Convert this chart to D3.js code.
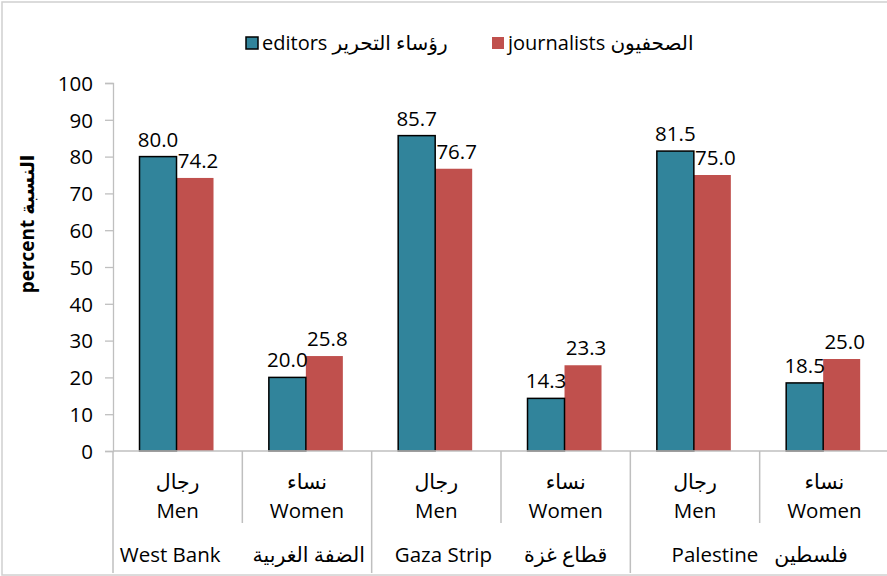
<!DOCTYPE html>
<html>
<head>
<meta charset="utf-8">
<script src="https://cdn.jsdelivr.net/npm/d3@7"></script>
<style>
  body { margin: 0; background: #fff; }
  text { font-family: "Open Sans", "DejaVu Sans", sans-serif; fill: #000; }
</style>
</head>
<body>
<svg id="chart" width="887" height="576"></svg>
<script>
// ---- data ----
const regionsEn = ["West Bank", "Gaza Strip", "Palestine"];
const regionsAr = ["الضفة الغربية", "قطاع غزة", "فلسطين"];
const sexEn = ["Men", "Women"];
const sexAr = ["رجال", "نساء"];
const seriesNames = ["editors رؤساء التحرير", "journalists الصحفيون"];
const editors = [80.0, 20.0, 85.7, 14.3, 81.5, 18.5];
const journalists = [74.2, 25.8, 76.7, 23.3, 75.0, 25.0];
const yTicks = [0, 10, 20, 30, 40, 50, 60, 70, 80, 90, 100];
const yTitle = "percent النسبة";

// ---- layout ----
const svg = d3.select("#chart");
const colors = ["#31849B", "#C0504D"];
const plotL = 113, plotR = 889, plotT = 83, plotB = 451;
const axisGray = "#BFBFBF";
const fs = "20.5px";

svg.append("rect").attr("x", 2).attr("y", 2).attr("width", 895).attr("height", 573)
  .attr("fill", "#fff").attr("stroke", "#D0D0D0").attr("stroke-width", 1.5);

const cats = [];
regionsEn.forEach((r, i) => sexEn.forEach((s, j) => cats.push(i * 2 + j)));

const x0 = d3.scaleBand().domain(cats).range([plotL, plotR]).padding(0);
const step = x0.bandwidth();
const x1 = d3.scaleBand().domain([0, 1]).range([step * 0.205, step * 0.205 + 74]).padding(0);
const y = d3.scaleLinear().domain([0, 100]).range([plotB, plotT]);

// y axis
const yAxis = d3.axisLeft(y).tickValues(yTicks).tickSize(8).tickPadding(12).tickFormat(d3.format("d"));
const gy = svg.append("g").attr("transform", `translate(${plotL},0)`).call(yAxis);
gy.select(".domain").attr("stroke", axisGray).attr("stroke-width", 1.3);
gy.selectAll(".tick line").attr("stroke", axisGray).attr("stroke-width", 1.3);
gy.selectAll(".tick text").style("font-size", fs).style("font-family", "Open Sans").attr("fill", "#000").attr("dy", "0.36em");

// y title
svg.append("text").attr("transform", `translate(34,224) rotate(-90)`)
  .attr("text-anchor", "middle").style("font-size", "19px").style("font-weight", "bold")
  .text(yTitle);

// bars
const data = cats.map(c => ({ c, v: [editors[c], journalists[c]] }));
const groups = svg.append("g").selectAll("g").data(data).join("g")
  .attr("transform", d => `translate(${x0(d.c)},0)`);

groups.selectAll("rect.j").data(d => [d.v[1]]).join("rect")
  .attr("x", x1(1)).attr("width", x1.bandwidth())
  .attr("y", v => y(v)).attr("height", v => y(0) - y(v))
  .attr("fill", colors[1]);
groups.selectAll("rect.e").data(d => [d.v[0]]).join("rect")
  .attr("x", x1(0)).attr("width", x1.bandwidth())
  .attr("y", v => y(v)).attr("height", v => y(0) - y(v))
  .attr("fill", colors[0]).attr("stroke", "#000").attr("stroke-width", 1.5);

groups.selectAll("text.lbl").data(d => d.v.map((v, i) => ({ v, i }))).join("text")
  .attr("x", d => x1(d.i) + x1.bandwidth() / 2 + (d.i === 1 ? 3 : 0))
  .attr("y", d => y(d.v) - 10)
  .attr("text-anchor", "middle").style("font-size", fs)
  .text(d => d.v.toFixed(1));

// x axis line
svg.append("line").attr("x1", plotL).attr("x2", plotR).attr("y1", plotB).attr("y2", plotB)
  .attr("stroke", axisGray).attr("stroke-width", 1.5);

// separators
cats.forEach(c => {
  const xx = x0(c);
  const long = c % 2 === 0;
  svg.append("line").attr("x1", xx).attr("x2", xx).attr("y1", plotB)
    .attr("y2", long ? 573 : 523).attr("stroke", axisGray).attr("stroke-width", 1.5);
});

// category labels
cats.forEach(c => {
  const cx = x0(c) + step / 2;
  svg.append("text").attr("x", cx).attr("y", 489).attr("text-anchor", "middle")
    .style("font-size", fs).text(sexAr[c % 2]);
  svg.append("text").attr("x", cx).attr("y", 518).attr("text-anchor", "middle")
    .style("font-size", fs).text(sexEn[c % 2]);
});

const regionGaps = [6, 6, 3];
regionsEn.forEach((r, i) => {
  const cx = x0(i * 2) + step;
  svg.append("text").attr("x", cx).attr("y", 562).attr("text-anchor", "middle")
    .style("font-size", fs).style("white-space", "pre")
    .text(r + "\u00a0".repeat(regionGaps[i]) + regionsAr[i]);
});

// legend
const legX = [246, 492];
seriesNames.forEach((n, i) => {
  svg.append("rect").attr("x", legX[i]).attr("y", 37).attr("width", 12).attr("height", 12)
    .attr("fill", colors[i]).attr("stroke", i === 0 ? "#000" : "none").attr("stroke-width", 1.5);
  svg.append("text").attr("x", legX[i] + 16).attr("y", 50)
    .style("font-size", "20px").text(n);
});
</script>
</body>
</html>
